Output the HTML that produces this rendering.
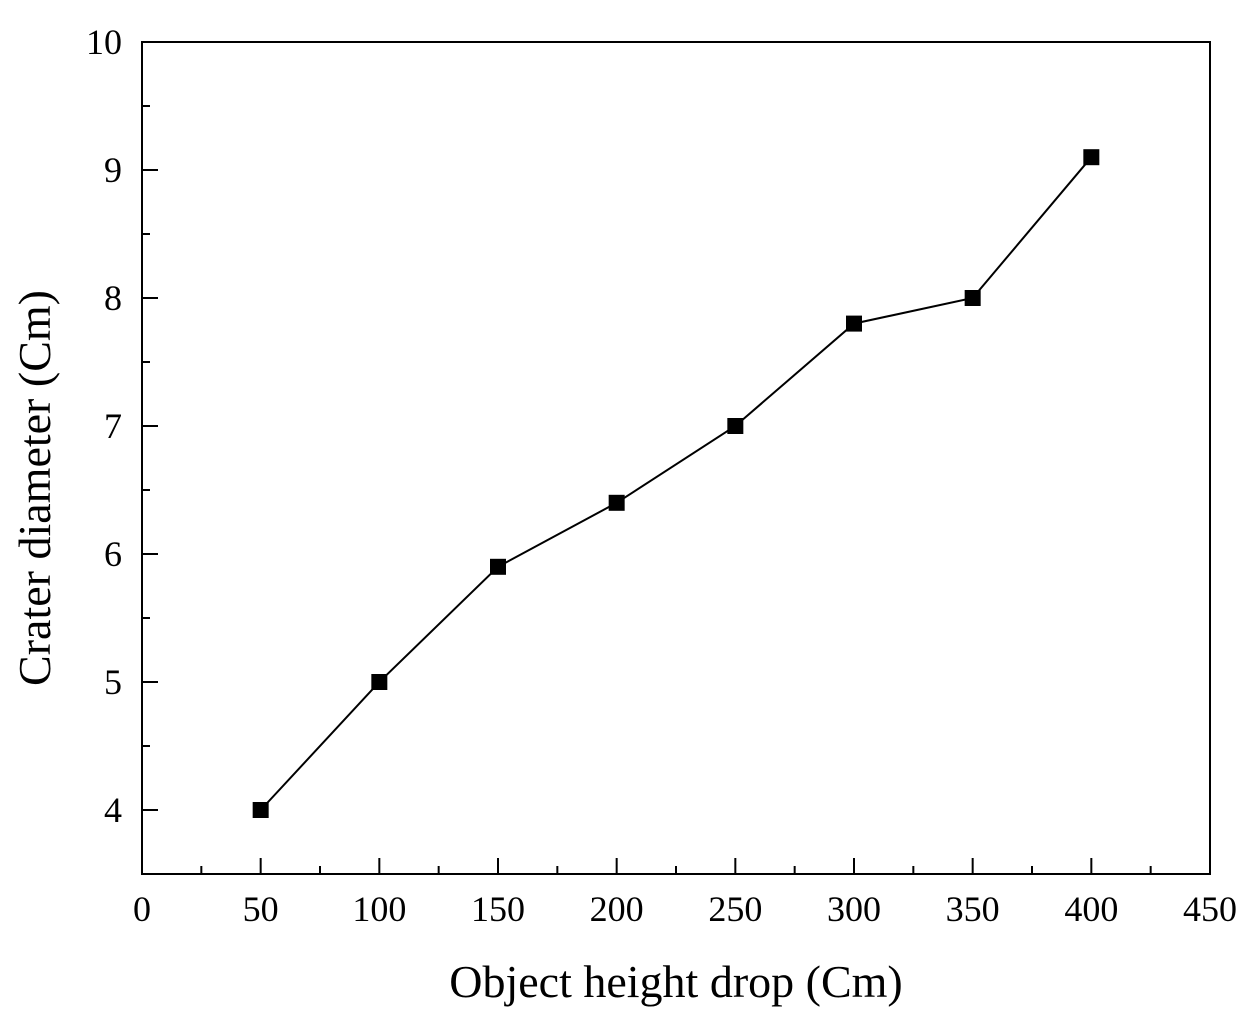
<!DOCTYPE html>
<html><head><meta charset="utf-8"><style>
html,body{margin:0;padding:0;background:#fff;}
svg{display:block;font-family:"Liberation Serif",serif;}
</style></head><body>
<svg id="chart" width="1251" height="1017" viewBox="0 0 1251 1017" xmlns="http://www.w3.org/2000/svg">
<rect width="1251" height="1017" fill="#fff"/>
<g id="axes"></g>
<g id="series"></g>
<text x="676" y="997" font-size="46" text-anchor="middle">Object height drop (Cm)</text>
<text transform="translate(50,488) rotate(-90)" font-size="46" text-anchor="middle">Crater diameter (Cm)</text>
</svg>
<script>
const heights = [50,100,150,200,250,300,350,400];
const diameters = [4.0,5.0,5.9,6.4,7.0,7.8,8.0,9.1];
const xTickLabels = ["0","50","100","150","200","250","300","350","400","450"];
const yTickLabels = ["4","5","6","7","8","9","10"];

const L=142,R=1210,T=42,B=874;
const xMin=0,xMax=450,yMin=3.5,yMax=10;
const sx=v=>L+(v-xMin)/(xMax-xMin)*(R-L);
const sy=v=>B-(v-yMin)/(yMax-yMin)*(B-T);
const NS="http://www.w3.org/2000/svg";
function mk(tag,attrs,parent){const e=document.createElementNS(NS,tag);for(const k in attrs)e.setAttribute(k,attrs[k]);parent.appendChild(e);return e;}
const axes=document.getElementById('axes'), series=document.getElementById('series');

const frame=mk('rect',{x:L,y:T,width:R-L,height:B-T,fill:'none',stroke:'#000','stroke-width':2},axes);



xTickLabels.forEach(s=>{
  const v=+s, x=sx(v);
  const t=mk('line',{x1:x,x2:x,y1:B,y2:B-16,stroke:'#000','stroke-width':2},axes);
  
  
  if(v+25<xMax){const m=mk('line',{x1:sx(v+25),x2:sx(v+25),y1:B,y2:B-8,stroke:'#000','stroke-width':2},axes);
    
    }
  const lb=mk('text',{x:x,y:B+47,'font-size':36,'text-anchor':'middle'},axes);
  lb.textContent=s;
  
  
});
yTickLabels.forEach(s=>{
  const v=+s, y=sy(v);
  const t=mk('line',{x1:L,x2:L+16,y1:y,y2:y,stroke:'#000','stroke-width':2},axes);
  
  
  const m=mk('line',{x1:L,x2:L+8,y1:sy(v-0.5),y2:sy(v-0.5),stroke:'#000','stroke-width':2},axes);
  
  
  const lb=mk('text',{x:122,y:y+12,'font-size':36,'text-anchor':'end'},axes);
  lb.textContent=s;
  
  
});

const pts=heights.map((h,i)=>sx(h)+','+sy(diameters[i])).join(' ');
const line=mk('polyline',{points:pts,fill:'none',stroke:'#000','stroke-width':2},series);


heights.forEach((h,i)=>{
  const r=mk('rect',{x:sx(h)-8,y:sy(diameters[i])-8,width:16,height:16,fill:'#000'},series);
  
  
});
</script>
</body></html>
